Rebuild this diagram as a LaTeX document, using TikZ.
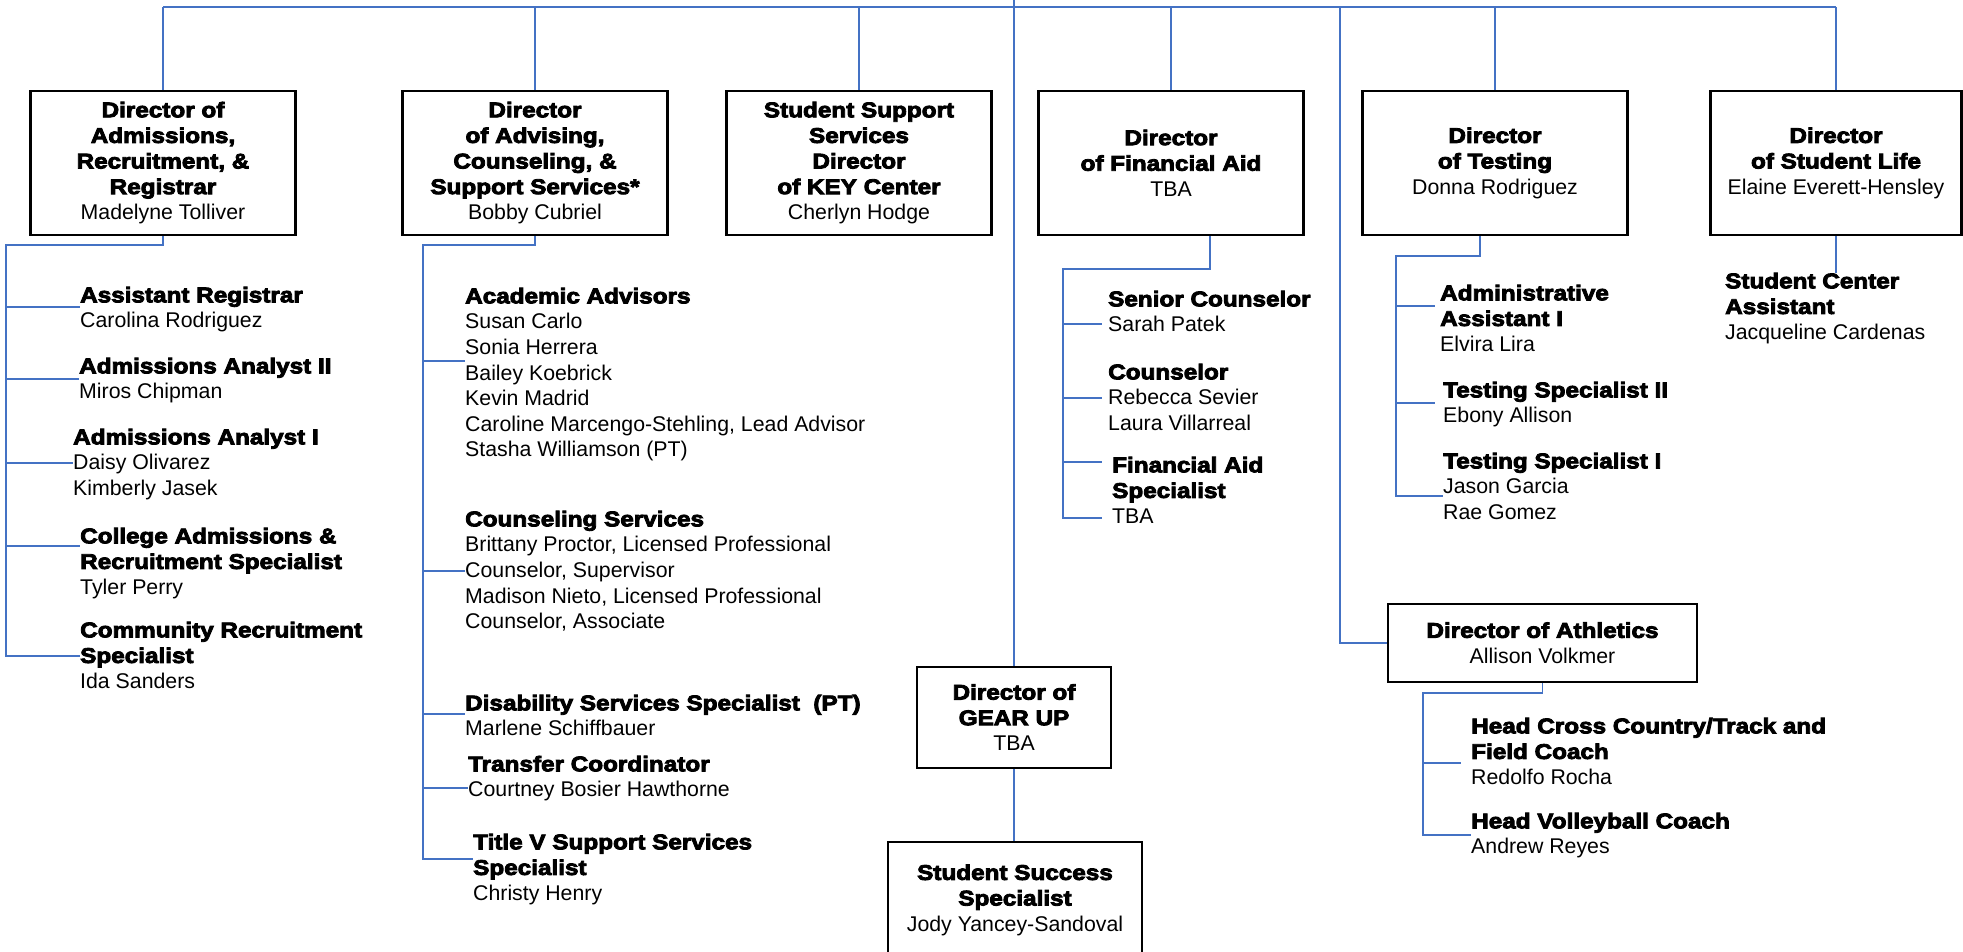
\documentclass[tikz,border=0pt]{standalone}
\usepackage{fontspec}
\setmainfont{Liberation Sans}
\newfontfamily\heavy[FakeStretch=1.14,FakeBold=4]{Liberation Sans Bold}
\definecolor{lnblue}{HTML}{4472C4}
\newcommand\txtsize{\fontsize{21.3}{25.6}\selectfont}
\tikzset{
 conn/.style={draw=lnblue, line width=1.8pt},
 orgbox/.style={draw=black, line width=2.2pt, fill=white, align=center, inner sep=0pt, font=\txtsize, minimum height=144pt, minimum width=265pt},
 sub/.style={anchor=north west, inner sep=0pt, align=left, font=\txtsize},
}
\begin{document}
\begin{tikzpicture}[x=1pt,y=-1pt]
\useasboundingbox (0,0) rectangle (1963,952);
\clip (0,0) rectangle (1963,952);

% top bar
\coordinate (tl) at (163,7);
\coordinate (tr) at (1836,7);
\coordinate (ctop) at (1014,0);
\coordinate (athtop) at (1340,7);
\draw[conn] (tl) -- (tr);

% directors
\node[orgbox] (b1) at (163,163) {{\heavy Director of}\\{\heavy Admissions,}\\{\heavy Recruitment, \&}\\{\heavy Registrar}\\Madelyne Tolliver};
\node[orgbox] (b2) at (535,163) {{\heavy Director}\\{\heavy of Advising,}\\{\heavy Counseling, \&}\\{\heavy Support Services*}\\Bobby Cubriel};
\node[orgbox] (b3) at (859,163) {{\heavy Student Support}\\{\heavy Services}\\{\heavy Director}\\{\heavy of KEY Center}\\Cherlyn Hodge};
\node[orgbox] (b4) at (1171,163) {{\heavy Director}\\{\heavy of Financial Aid}\\TBA};
\node[orgbox] (b5) at (1495,163) {{\heavy Director}\\{\heavy of Testing}\\Donna Rodriguez};
\node[orgbox, minimum width=251pt] (b6) at (1836,163) {{\heavy Director}\\{\heavy of Student Life}\\Elaine Everett-Hensley};

\foreach \b in {b1,b2,b3,b4,b5,b6} \draw[conn] (\b.north |- tl) -- (\b.north);

% GEAR UP
\node[orgbox, minimum width=194pt, minimum height=101pt] (gear) at (1014,717.5) {{\heavy Director of}\\{\heavy GEAR UP}\\TBA};
\node[orgbox, minimum width=254pt, minimum height=116pt] (succ) at (1015,900) {{\heavy Student Success}\\{\heavy Specialist}\\Jody Yancey-Sandoval};
\draw[conn] (ctop) -- (gear.north);
\draw[conn] (gear.south) -- (gear.south |- succ.north);

% Athletics
\node[orgbox, minimum width=309pt, minimum height=78pt] (ath) at (1542.5,643) {{\heavy Director of Athletics}\\Allison Volkmer};
\draw[conn] (athtop) |- (ath.west);

% ---- Admissions group
\node[sub] (r1) at (80,286.7) {{\heavy Assistant Registrar}\\Carolina Rodriguez};
\node[sub] (r2) at (79,357.7) {{\heavy Admissions Analyst II}\\Miros Chipman};
\node[sub] (r3) at (73,428.7) {{\heavy Admissions Analyst I}\\Daisy Olivarez\\Kimberly Jasek};
\node[sub] (r4) at (80,527.7) {{\heavy College Admissions \&}\\{\heavy Recruitment Specialist}\\Tyler Perry};
\node[sub] (r5) at (80,621.7) {{\heavy Community Recruitment}\\{\heavy Specialist}\\Ida Sanders};
\coordinate (l1) at (6,245);
\coordinate (p1) at (6,307);
\coordinate (p2) at (6,379);
\coordinate (p3) at (6,463);
\coordinate (p4) at (6,546);
\coordinate (p5) at (6,656);
\draw[conn] (b1.south) |- (l1) -- (p5) -- (p5 -| r5.west);
\foreach \i in {1,2,3,4} \draw[conn] (p\i) -- (p\i -| r\i.west);

% ---- Advising group
\node[sub] (a1) at (465,287.7) {{\heavy Academic Advisors}\\Susan Carlo\\Sonia Herrera\\Bailey Koebrick\\Kevin Madrid\\Caroline Marcengo-Stehling, Lead Advisor\\Stasha Williamson (PT)};
\node[sub] (a2) at (465,510.7) {{\heavy Counseling Services}\\Brittany Proctor, Licensed Professional\\Counselor, Supervisor\\Madison Nieto, Licensed Professional\\Counselor, Associate};
\node[sub] (a3) at (465,694.7) {{\heavy Disability Services Specialist~ (PT)}\\Marlene Schiffbauer};
\node[sub] (a4) at (468,755.7) {{\heavy Transfer Coordinator}\\Courtney Bosier Hawthorne};
\node[sub] (a5) at (473,833.7) {{\heavy Title V Support Services}\\{\heavy Specialist}\\Christy Henry};
\coordinate (l2) at (423,245);
\coordinate (q1) at (423,361);
\coordinate (q2) at (423,571);
\coordinate (q3) at (423,714);
\coordinate (q4) at (423,788);
\coordinate (q5) at (423,859);
\draw[conn] (b2.south) |- (l2) -- (q5) -- (q5 -| a5.west);
\foreach \i in {1,2,3,4} \draw[conn] (q\i) -- (q\i -| a\i.west);

% ---- Financial aid group
\node[sub] (f1) at (1108,290.7) {{\heavy Senior Counselor}\\Sarah Patek};
\node[sub] (f2) at (1108,363.7) {{\heavy Counselor}\\Rebecca Sevier\\Laura Villarreal};
\node[sub] (f3) at (1112,456.7) {{\heavy Financial Aid}\\{\heavy Specialist}\\TBA};
\coordinate (fdx) at (1210,269);
\coordinate (fe) at (1102,0);
\coordinate (fs1) at (1063,324);
\coordinate (fs2) at (1063,398);
\coordinate (fs3) at (1063,462);
\coordinate (fs4) at (1063,518);
\draw[conn] (b4.south -| fdx) -- (fdx) -| (fs4) -- (fs4 -| fe);
\foreach \i in {1,2,3} \draw[conn] (fs\i) -- (fs\i -| fe);

% ---- Testing group
\node[sub] (t1) at (1440,284.7) {{\heavy Administrative}\\{\heavy Assistant I}\\Elvira Lira};
\node[sub] (t2) at (1443,381.7) {{\heavy Testing Specialist II}\\Ebony Allison};
\node[sub] (t3) at (1443,452.7) {{\heavy Testing Specialist I}\\Jason Garcia\\Rae Gomez};
\coordinate (tdx) at (1480,256);
\coordinate (te) at (1435,0);
\coordinate (ts1) at (1396,306);
\coordinate (ts2) at (1396,403);
\coordinate (ts3) at (1396,496);
\draw[conn] (b5.south -| tdx) -- (tdx) -| (ts3) -- (ts3 -| t3.west);
\foreach \i in {1,2} \draw[conn] (ts\i) -- (ts\i -| te);

% ---- Athletics group
\node[sub] (h1) at (1471,717.7) {{\heavy Head Cross Country/Track and}\\{\heavy Field Coach}\\Redolfo Rocha};
\node[sub] (h2) at (1471,812.7) {{\heavy Head Volleyball Coach}\\Andrew Reyes};
\coordinate (hdx) at (1423,693);
\coordinate (he) at (1461,0);
\coordinate (hs1) at (1423,763);
\coordinate (hs2) at (1423,835);
\draw[conn] (ath.south) |- (hdx) -- (hs2) -- (hs2 -| h2.west);
\draw[conn] (hs1) -- (hs1 -| he);

% ---- Student life
\node[sub] (s1) at (1725,272.7) {{\heavy Student Center}\\{\heavy Assistant}\\Jacqueline Cardenas};
\coordinate (sle) at (1836,273);
\draw[conn] (b6.south) -- (sle);
\end{tikzpicture}
\end{document}
